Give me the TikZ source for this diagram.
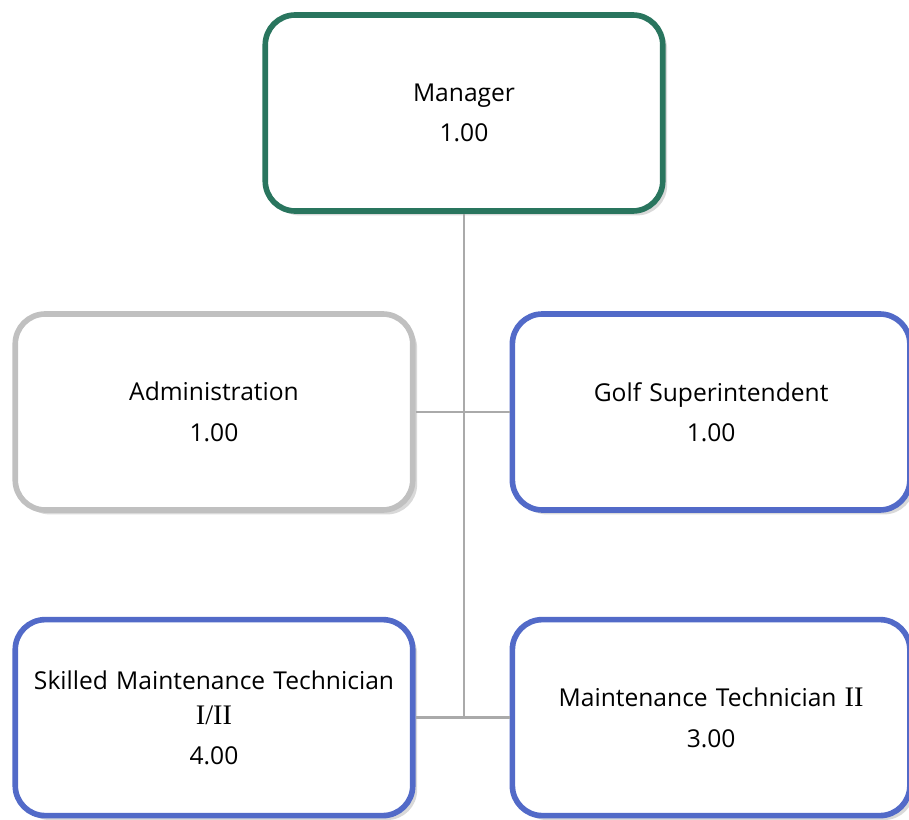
\documentclass[tikz,border=0pt]{standalone}
\usepackage{fontspec}
\setmainfont{Open Sans}
\newfontfamily\numfont[Scale=1.15]{Liberation Serif}
\usepackage{xcolor}
\definecolor{orggreen}{RGB}{41,117,94}
\definecolor{orgblue}{RGB}{82,106,200}
\definecolor{orggray}{RGB}{192,192,192}
\definecolor{orgline}{RGB}{170,170,170}
\usetikzlibrary{positioning, shadows}

\begin{document}
\begin{tikzpicture}[
    node distance=1.88cm and 1.88cm,
    posbox/.style={rectangle, rounded corners=0.6cm, line width=3.2pt, fill=white,
                   minimum width=7.95cm, minimum height=3.92cm, text width=7.6cm,
                   align=center, font=\fontsize{14}{20}\selectfont,
                   drop shadow={shadow xshift=2.5pt, shadow yshift=-2.5pt, opacity=0.3}},
    mgrbox/.style={posbox, draw=orggreen},
    admbox/.style={posbox, draw=orggray},
    fldbox/.style={posbox, draw=orgblue},
    conn/.style={line width=1.5pt, orgline},
]
\useasboundingbox (0,0) rectangle (18.18,-16.4);

\node[mgrbox] (mgr) at (9.28,-2.26) {Manager\\[3pt]1.00};

\node[admbox] (adm) at (4.28,-8.24) {Administration\\[3pt]1.00};
\node[fldbox, right=1.88cm of adm] (gs) {Golf Superintendent\\[3pt]1.00};

\node[fldbox, below=2.08cm of adm] (smt) {Skilled Maintenance Technician\\{\numfont I/II}\\[3pt]4.00};
\node[fldbox, right=1.88cm of smt] (mt) {Maintenance Technician {\numfont II}\\[3pt]3.00};

% connectors
\draw[conn] (mgr.south) -- (mgr.south |- smt.east);
\draw[conn] (adm.east) -- (gs.west);
\draw[conn] (smt.east) -- (mt.west);

\end{tikzpicture}
\end{document}
